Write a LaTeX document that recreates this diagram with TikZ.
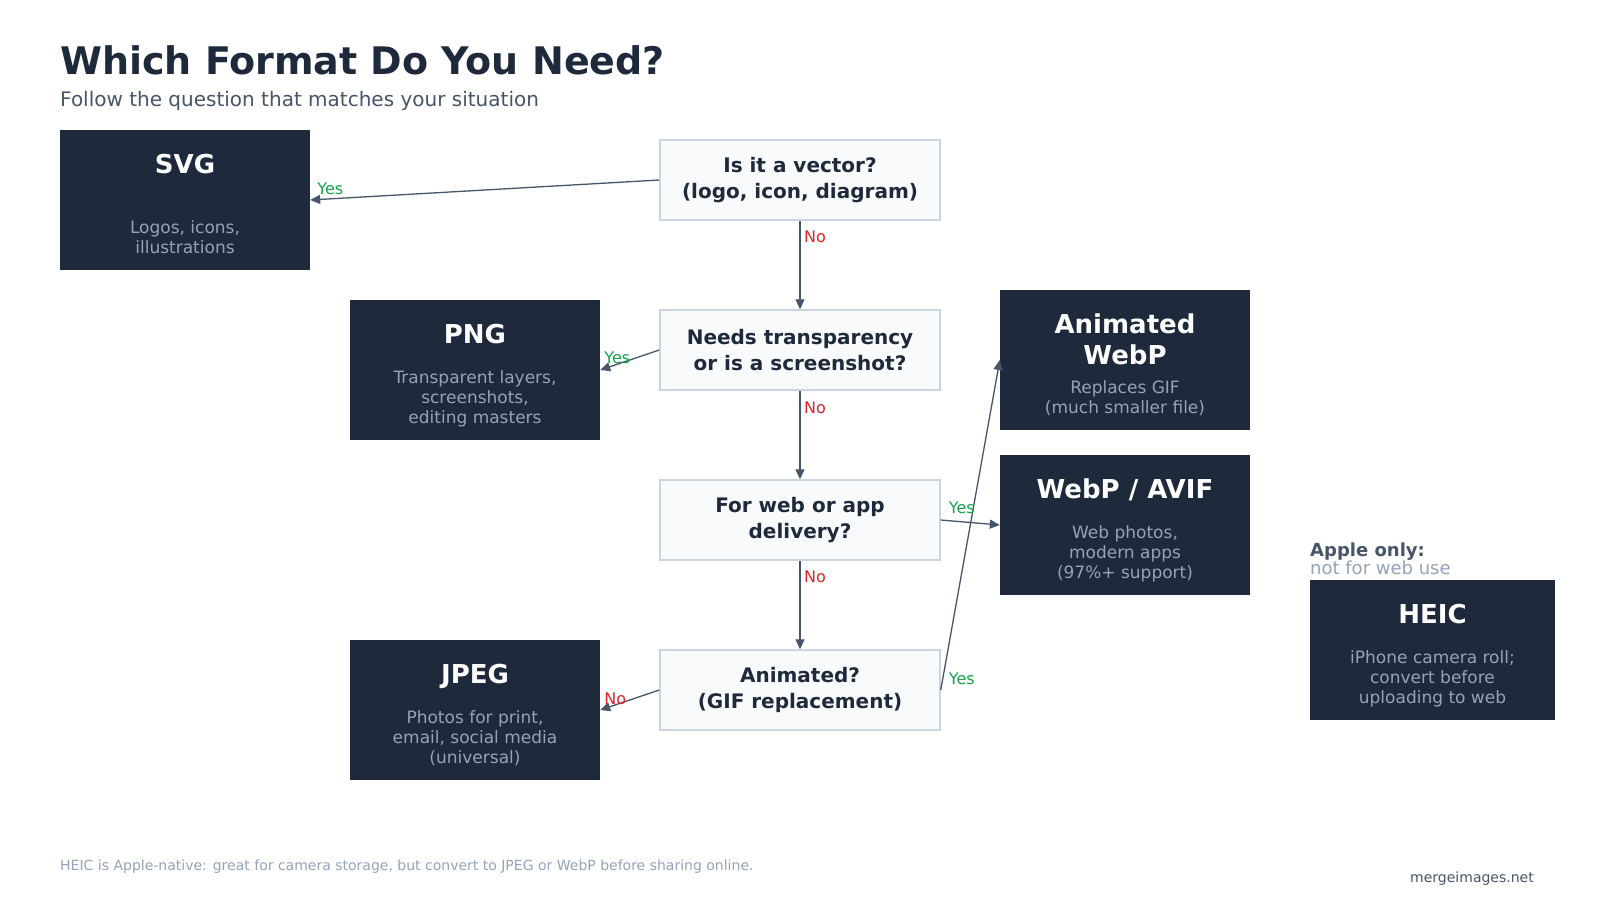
\documentclass[tikz,border=0pt]{standalone}
\usepackage{fontspec}
\setmainfont{DejaVu Sans}
\usetikzlibrary{arrows.meta}
\definecolor{ink}{HTML}{1E293B}
\definecolor{slate}{HTML}{475569}
\definecolor{muted}{HTML}{94A3B8}
\definecolor{qfill}{HTML}{F8FAFC}
\definecolor{qline}{HTML}{CBD5E1}
\definecolor{yesc}{HTML}{16A34A}
\definecolor{noc}{HTML}{DC2626}
\tikzset{
  fmtbox/.style={fill=ink, draw=none, minimum width=250pt, minimum height=140pt, inner sep=0pt},
  qbox/.style={fill=qfill, draw=qline, line width=1.5pt, minimum width=280pt, minimum height=80pt,
    inner sep=0pt, align=center, text=ink, font=\fontsize{20}{26}\selectfont\bfseries},
  ftitle/.style={anchor=base, text=white, font=\fontsize{26}{31.6}\selectfont\bfseries, inner sep=0pt},
  fdesc/.style={anchor=base, text=muted, font=\fontsize{17}{20}\selectfont, inner sep=0pt},
  edge/.style={draw=slate, line width=1.3pt, -{Triangle[length=10pt,width=9pt]}},
  yeslbl/.style={text=yesc, font=\fontsize{16}{19}\selectfont, anchor=west, inner sep=0pt},
  nolbl/.style={text=noc, font=\fontsize{16}{19}\selectfont, anchor=west, inner sep=0pt},
}
\begin{document}
\begin{tikzpicture}[x=1pt,y=-1pt]
\useasboundingbox (0,0) rectangle (1600,900);
\fill[white] (0,0) rectangle (1600,900);

% heading
\node[anchor=base west, inner sep=0pt, text=ink, font=\fontsize{38}{46}\selectfont\bfseries] (title) at (60,74.5) {Which Format Do You Need?};
\node[anchor=base west, inner sep=0pt, text=slate, font=\fontsize{20}{24}\selectfont] (subtitle) at (60,106) {Follow the question that matches your situation};

% question boxes
\node[qbox] (q1) at (800,180) {Is it a vector?\\(logo, icon, diagram)};
\node[qbox] (q2) at (800,350) {Needs transparency\\or is a screenshot?};
\node[qbox] (q3) at (800,520) {For web or app\\delivery?};
\node[qbox] (q4) at (800,690) {Animated?\\(GIF replacement)};

% format boxes
\node[fmtbox] (svg) at (185,200) {};
\node[ftitle] (svgT) at ([yshift=-43.5pt]svg.north) {SVG};
\node[fdesc] (svgD1) at ([yshift=-104pt]svg.north) {Logos, icons,};
\node[fdesc] (svgD2) at ([yshift=-124pt]svg.north) {illustrations};

\node[fmtbox] (png) at (475,370) {};
\node[ftitle] (pngT) at ([yshift=-43.5pt]png.north) {PNG};
\node[fdesc] (pngD1) at ([yshift=-84pt]png.north) {Transparent layers,};
\node[fdesc] (pngD2) at ([yshift=-104pt]png.north) {screenshots,};
\node[fdesc] (pngD3) at ([yshift=-124pt]png.north) {editing masters};

\node[fmtbox] (jpeg) at (475,710) {};
\node[ftitle] (jpegT) at ([yshift=-43.5pt]jpeg.north) {JPEG};
\node[fdesc] (jpegD1) at ([yshift=-84pt]jpeg.north) {Photos for print,};
\node[fdesc] (jpegD2) at ([yshift=-104pt]jpeg.north) {email, social media};
\node[fdesc] (jpegD3) at ([yshift=-124pt]jpeg.north) {(universal)};

\node[fmtbox] (anim) at (1125,360) {};
\node[ftitle] (animT1) at ([yshift=-43.5pt]anim.north) {Animated};
\node[ftitle] (animT2) at ([yshift=-75pt]anim.north) {WebP};
\node[fdesc] (animD1) at ([yshift=-104pt]anim.north) {Replaces GIF};
\node[fdesc] (animD2) at ([yshift=-124pt]anim.north) {(much smaller file)};

\node[fmtbox] (webp) at (1125,525) {};
\node[ftitle] (webpT) at ([yshift=-43.5pt]webp.north) {WebP / AVIF};
\node[fdesc] (webpD1) at ([yshift=-84pt]webp.north) {Web photos,};
\node[fdesc] (webpD2) at ([yshift=-104pt]webp.north) {modern apps};
\node[fdesc] (webpD3) at ([yshift=-124pt]webp.north) {(97\%+ support)};

\node[fmtbox, minimum width=245pt] (heic) at (1432.5,650) {};
\node[ftitle] (heicT) at ([yshift=-43.5pt]heic.north) {HEIC};
\node[fdesc] (heicD1) at ([yshift=-84pt]heic.north) {iPhone camera roll;};
\node[fdesc] (heicD2) at ([yshift=-104pt]heic.north) {convert before};
\node[fdesc] (heicD3) at ([yshift=-124pt]heic.north) {uploading to web};

\node[anchor=base west, inner sep=0pt, text=slate, font=\fontsize{18}{18}\selectfont\bfseries] (apple) at (1310,556.5) {Apple only:};
\node[anchor=base west, inner sep=0pt, text=muted, font=\fontsize{18}{18}\selectfont] (apple2) at (1310,574.5) {not for web use};

% connectors
\draw[edge] (q1.west) -- (svg.east);
\draw[edge] (q1.south) -- (q2.north);
\draw[edge] (q2.west) -- (png.east);
\draw[edge] (q2.south) -- (q3.north);
\draw[edge] (q3.east) -- (webp.west);
\draw[edge] (q3.south) -- (q4.north);
\draw[edge] (q4.west) -- (jpeg.east);
\draw[edge] (q4.east) -- (anim.west);

% labels
\node[yeslbl] (l1) at ([xshift=7pt,yshift=11pt]svg.east) {Yes};
\node[nolbl] (l2) at ([xshift=4pt,yshift=-16pt]q1.south) {No};
\node[yeslbl] (l3) at ([xshift=4pt,yshift=12pt]png.east) {Yes};
\node[nolbl] (l4) at ([xshift=4pt,yshift=-17pt]q2.south) {No};
\node[yeslbl] (l5) at ([xshift=8pt,yshift=12pt]q3.east) {Yes};
\node[nolbl] (l6) at ([xshift=4pt,yshift=-16pt]q3.south) {No};
\node[nolbl] (l7) at ([xshift=4pt,yshift=11pt]jpeg.east) {No};
\node[yeslbl] (l8) at ([xshift=8pt,yshift=11pt]q4.east) {Yes};

% footer
\node[anchor=base west, inner sep=0pt, text=muted, font=\fontsize{14}{16}\selectfont] (foot) at (60,870) {HEIC is Apple-native: great for camera storage, but convert to JPEG or WebP before sharing online.};
\node[anchor=base east, inner sep=0pt, text=slate, font=\fontsize{14}{16}\selectfont] (brand) at (1534,882) {mergeimages.net};
\end{tikzpicture}
\end{document}
